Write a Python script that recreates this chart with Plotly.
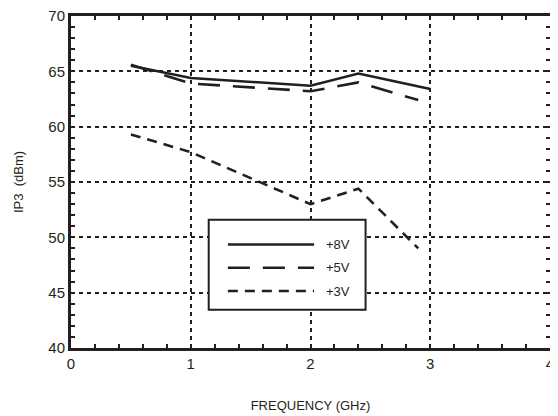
import plotly.graph_objects as go

freq_8v = [0.5, 1.0, 2.0, 2.4, 3.0]
ip3_8v = [65.5, 64.4, 63.7, 64.8, 63.4]
freq_5v = [0.5, 1.0, 2.0, 2.4, 2.9]
ip3_5v = [65.6, 63.9, 63.2, 64.0, 62.4]
freq_3v = [0.5, 1.0, 2.0, 2.4, 2.9]
ip3_3v = [59.3, 57.7, 53.0, 54.4, 49.0]

series_names = ["+8V", "+5V", "+3V"]
x_ticks = [0, 1, 2, 3, 4]
y_ticks = [40, 45, 50, 55, 60, 65, 70]

dashes = ["solid", "22px,13px", "10px,7px"]
ink = "#231f20"
font_family = "Liberation Sans, Arial"

fig = go.Figure()
for xs, ys, name, d in zip([freq_8v, freq_5v, freq_3v], [ip3_8v, ip3_5v, ip3_3v], series_names, dashes):
    fig.add_trace(go.Scatter(x=xs, y=ys, mode="lines", name=name, showlegend=False,
                             line=dict(color=ink, width=2.6, dash=d)))

# manual legend box (styling only)
fig.add_shape(type="rect", xref="x", yref="y", x0=1.15, x1=2.46, y0=43.45, y1=51.6,
              line=dict(color=ink, width=2), fillcolor="white", layer="above")
legend_rows = [49.35, 47.25, 45.15]
for name, d, yy in zip(series_names, dashes, legend_rows):
    fig.add_shape(type="line", xref="x", yref="y", x0=1.31, x1=2.03, y0=yy, y1=yy,
                  line=dict(color=ink, width=2.6, dash=d), layer="above")
    fig.add_annotation(x=2.11, y=yy, xref="x", yref="y", text=name, showarrow=False,
                       xanchor="left", yanchor="middle",
                       font=dict(family=font_family, size=13, color=ink))

axis_common = dict(
    showline=True, linecolor=ink, linewidth=3, mirror="ticks",
    ticks="inside", ticklen=4, tickwidth=2, tickcolor=ink,
    showgrid=True, gridcolor=ink, gridwidth=1.6, griddash="4px,4px",
    zeroline=False, automargin=False, ticklabeloverflow="allow",
    tickfont=dict(family=font_family, size=15, color=ink),
)

fig.update_xaxes(range=[0, 4], tickvals=x_ticks, ticktext=[str(v) for v in x_ticks],
                 minor=dict(dtick=0.2, ticks="inside", ticklen=4, tickwidth=2, tickcolor=ink, showgrid=False),
                 title=dict(text="FREQUENCY (GHz)", standoff=30,
                            font=dict(family=font_family, size=13, color=ink)),
                 **axis_common)
fig.update_yaxes(range=[40, 70], tickvals=y_ticks, ticktext=[str(v) for v in y_ticks],
                 minor=dict(dtick=1, ticks="inside", ticklen=4, tickwidth=2, tickcolor=ink, showgrid=False),
                 title=dict(text="IP3  (dBm)", standoff=22,
                            font=dict(family=font_family, size=13, color=ink)),
                 **axis_common)

# page body has an 8px default margin, so size the figure to fit the 558x416 window
fig.update_layout(width=550, height=408, margin=dict(l=63, r=8, t=8, b=68),
                  plot_bgcolor="white", paper_bgcolor="white", showlegend=False)

fig.write_html("out.html")
